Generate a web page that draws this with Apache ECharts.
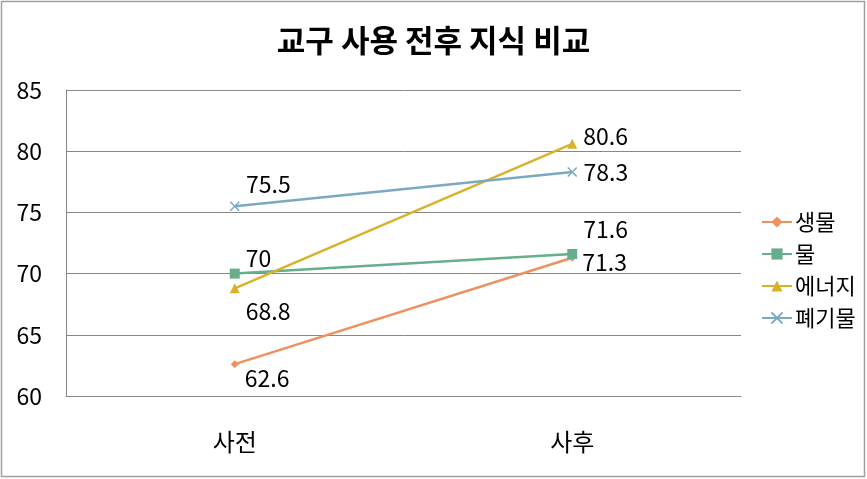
<!DOCTYPE html>
<html><head><meta charset="utf-8">
<script src="https://cdn.jsdelivr.net/npm/echarts@6/dist/echarts.min.js"></script>
<style>html,body{margin:0;padding:0;background:#fff}#c{width:867px;height:479px}</style>
</head><body><div id="c"></div>
<script>
const categories = ['사전', '사후'];
const seriesNames = ['생물', '물', '에너지', '폐기물'];
const bio = [62.6, 71.3];
const water = [70, 71.6];
const energy = [68.8, 80.6];
const waste = [75.5, 78.3];
const yTicks = [60, 65, 70, 75, 80, 85];

const colors = ['#EB9260', '#66AE8C', '#D8B22A', '#7CA9C1'];
const font = '"Noto Sans CJK KR", "Noto Sans", sans-serif';
const labelOffsets = [
  [[0, 14], [0, 5]],
  [[0, -15], [0, -25]],
  [[0, 23], [0, -8]],
  [[0, -22], [0, 0]]
];
const symbols = ['diamond', 'rect', 'triangle', 'path://M0,0L10,10M10,0L0,10'];
const symbolSizes = [8, 10, 10, 9];
const datasets = [bio, water, energy, waste];

const chart = echarts.init(document.getElementById('c'));
chart.setOption({
  animation: false,
  title: {text: '교구 사용 전후 지식 비교', left: 'center', top: 20,
    textStyle: {fontFamily: font, fontSize: 31, fontWeight: 'bold', color: '#000'}},
  graphic: [{type: 'rect', shape: {x: 1.5, y: 1.5, width: 863, height: 475},
    style: {fill: 'none', stroke: '#A0A0A0', lineWidth: 1.5}}],
  grid: {left: 66, right: 126, top: 90, bottom: 83},
  legend: {orient: 'vertical', left: 756, top: 206, itemWidth: 30, itemHeight: 14, itemGap: 10,
    data: seriesNames,
    textStyle: {fontFamily: font, fontSize: 22, lineHeight: 22, color: '#000', padding: [0, 0, 0, -2]}},
  xAxis: {type: 'category', data: categories, boundaryGap: true,
    axisLine: {lineStyle: {color: '#888', width: 1}}, axisTick: {show: false},
    axisLabel: {fontFamily: font, fontSize: 24, color: '#000', margin: 34}},
  yAxis: {type: 'value', min: yTicks[0], max: yTicks[yTicks.length - 1], interval: 5,
    axisLine: {show: true, lineStyle: {color: '#888'}}, axisTick: {show: false},
    splitLine: {lineStyle: {color: '#888', width: 1}},
    axisLabel: {fontFamily: font, fontSize: 23, color: '#000', margin: 24}},
  series: seriesNames.map((name, i) => ({
    name, type: 'line', data: datasets[i].map((v, j) => ({
      value: v,
      label: {show: true, position: 'right', distance: 6, offset: labelOffsets[i][j],
        fontFamily: font, fontSize: 23, color: '#000'}
    })),
    symbol: symbols[i], symbolSize: symbolSizes[i],
    itemStyle: {color: colors[i], borderColor: colors[i], borderWidth: i === 3 ? 1.5 : 0},
    lineStyle: {color: colors[i], width: 2.5}
  }))
});
</script></body></html>
